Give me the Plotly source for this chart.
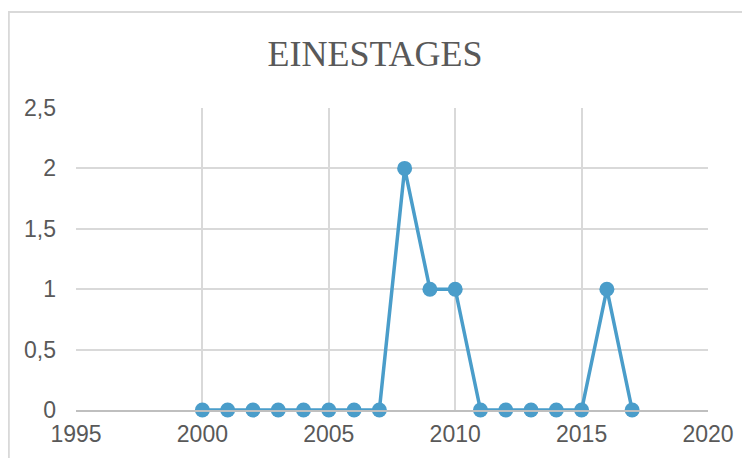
import plotly.graph_objects as go

years = list(range(2000, 2018))
values = [0, 0, 0, 0, 0, 0, 0, 0, 2, 1, 1, 0, 0, 0, 0, 0, 1, 0]
title_text = "EINESTAGES"
x_ticks = [1995, 2000, 2005, 2010, 2015, 2020]
y_ticks = [0, 0.5, 1, 1.5, 2, 2.5]

# page has an 8px body margin; figure coordinates = page coordinates - 8
W, H = 742, 450
L, R, T, B = 68, 700, 100, 402

fig = go.Figure()
fig.add_trace(go.Scatter(
    x=years, y=values, mode="lines+markers",
    line=dict(color="#4A9DCA", width=3.5),
    marker=dict(color="#4A9DCA", size=15),
    cliponaxis=False,
))

pw, ph = R - L, B - T
fig.update_layout(
    width=W, height=H,
    margin=dict(l=L, r=W - R, t=T, b=H - B, pad=0),
    paper_bgcolor="white", plot_bgcolor="white",
    separators=", ",
    showlegend=False,
    title=dict(text=title_text, x=(375 - 8) / W, xanchor="center", y=1 - 45 / H, yanchor="middle",
               font=dict(family="Liberation Serif", size=36, color="#595959")),
    xaxis=dict(range=[1995, 2020], tickvals=x_ticks, showgrid=True, gridcolor="#D9D9D9",
               gridwidth=1.5, zeroline=False, showline=True, linecolor="#BFBFBF", linewidth=1.5,
               ticks="", tickfont=dict(family="Liberation Sans", size=23, color="#595959"),
               ticklabelstandoff=3, automargin=False),
    yaxis=dict(range=[0, 2.5], tickvals=y_ticks, showgrid=True, gridcolor="#D9D9D9",
               gridwidth=1.5, zeroline=False, showline=False, ticks="",
               tickfont=dict(family="Liberation Sans", size=23, color="#595959"),
               ticklabelstandoff=19, automargin=False),
    shapes=[dict(type="rect", xref="paper", yref="paper",
                 x0=(0.8 - L) / pw, x1=(760 - L) / pw,
                 y0=(B - 470) / ph, y1=(B - 4) / ph,
                 line=dict(color="#D9D9D9", width=2), layer="below")],
)

fig.write_html("out.html")
